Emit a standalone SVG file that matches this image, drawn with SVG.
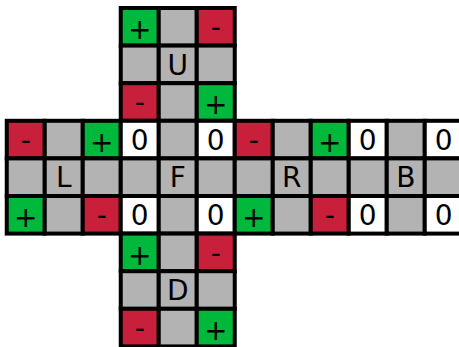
<svg xmlns="http://www.w3.org/2000/svg" width="459" height="347" viewBox="0 0 459 347">
<style>
rect{stroke:#000;stroke-width:4}
.g{fill:#b3b3b3}.r{fill:#c8203a}.p{fill:#00b93c}.w{fill:#fff}
text{font-family:"DejaVu Sans",sans-serif;font-size:28px;text-anchor:middle;fill:#000}
.pl{transform:translateY(2px)}
</style>
<g id="U">
<rect class="p" x="120.75" y="8" width="38" height="37.6"/><rect class="g" x="158.75" y="8" width="38" height="37.6"/><rect class="r" x="196.75" y="8" width="38" height="37.6"/>
<rect class="g" x="120.75" y="45.6" width="38" height="37.6"/><rect class="g" x="158.75" y="45.6" width="38" height="37.6"/><rect class="g" x="196.75" y="45.6" width="38" height="37.6"/>
<rect class="r" x="120.75" y="83.2" width="38" height="37.6"/><rect class="g" x="158.75" y="83.2" width="38" height="37.6"/><rect class="p" x="196.75" y="83.2" width="38" height="37.6"/>
<text class="pl" x="139.75" y="37">+</text><text x="215.75" y="37">-</text>
<text x="177.75" y="74.6">U</text>
<text x="139.75" y="112.2">-</text><text class="pl" x="215.75" y="112.2">+</text>
</g>
<g id="L">
<rect class="r" x="6.75" y="120.8" width="38" height="37.6"/><rect class="g" x="44.75" y="120.8" width="38" height="37.6"/><rect class="p" x="82.75" y="120.8" width="38" height="37.6"/>
<rect class="g" x="6.75" y="158.4" width="38" height="37.6"/><rect class="g" x="44.75" y="158.4" width="38" height="37.6"/><rect class="g" x="82.75" y="158.4" width="38" height="37.6"/>
<rect class="p" x="6.75" y="196" width="38" height="37.6"/><rect class="g" x="44.75" y="196" width="38" height="37.6"/><rect class="r" x="82.75" y="196" width="38" height="37.6"/>
<text x="25.75" y="149.8">-</text><text class="pl" x="101.75" y="149.8">+</text>
<text x="63.75" y="187.4">L</text>
<text class="pl" x="25.75" y="225">+</text><text x="101.75" y="225">-</text>
</g>
<g id="F">
<rect class="w" x="120.75" y="120.8" width="38" height="37.6"/><rect class="g" x="158.75" y="120.8" width="38" height="37.6"/><rect class="w" x="196.75" y="120.8" width="38" height="37.6"/>
<rect class="g" x="120.75" y="158.4" width="38" height="37.6"/><rect class="g" x="158.75" y="158.4" width="38" height="37.6"/><rect class="g" x="196.75" y="158.4" width="38" height="37.6"/>
<rect class="w" x="120.75" y="196" width="38" height="37.6"/><rect class="g" x="158.75" y="196" width="38" height="37.6"/><rect class="w" x="196.75" y="196" width="38" height="37.6"/>
<text x="139.75" y="149.8">0</text><text x="215.75" y="149.8">0</text>
<text x="177.75" y="187.4">F</text>
<text x="139.75" y="225">0</text><text x="215.75" y="225">0</text>
</g>
<g id="R">
<rect class="r" x="234.75" y="120.8" width="38" height="37.6"/><rect class="g" x="272.75" y="120.8" width="38" height="37.6"/><rect class="p" x="310.75" y="120.8" width="38" height="37.6"/>
<rect class="g" x="234.75" y="158.4" width="38" height="37.6"/><rect class="g" x="272.75" y="158.4" width="38" height="37.6"/><rect class="g" x="310.75" y="158.4" width="38" height="37.6"/>
<rect class="p" x="234.75" y="196" width="38" height="37.6"/><rect class="g" x="272.75" y="196" width="38" height="37.6"/><rect class="r" x="310.75" y="196" width="38" height="37.6"/>
<text x="253.75" y="149.8">-</text><text class="pl" x="329.75" y="149.8">+</text>
<text x="291.75" y="187.4">R</text>
<text class="pl" x="253.75" y="225">+</text><text x="329.75" y="225">-</text>
</g>
<g id="B">
<rect class="w" x="348.75" y="120.8" width="38" height="37.6"/><rect class="g" x="386.75" y="120.8" width="38" height="37.6"/><rect class="w" x="424.75" y="120.8" width="38" height="37.6"/>
<rect class="g" x="348.75" y="158.4" width="38" height="37.6"/><rect class="g" x="386.75" y="158.4" width="38" height="37.6"/><rect class="g" x="424.75" y="158.4" width="38" height="37.6"/>
<rect class="w" x="348.75" y="196" width="38" height="37.6"/><rect class="g" x="386.75" y="196" width="38" height="37.6"/><rect class="w" x="424.75" y="196" width="38" height="37.6"/>
<text x="367.75" y="149.8">0</text><text x="443.75" y="149.8">0</text>
<text x="405.75" y="187.4">B</text>
<text x="367.75" y="225">0</text><text x="443.75" y="225">0</text>
</g>
<g id="D">
<rect class="p" x="120.75" y="233.6" width="38" height="37.6"/><rect class="g" x="158.75" y="233.6" width="38" height="37.6"/><rect class="r" x="196.75" y="233.6" width="38" height="37.6"/>
<rect class="g" x="120.75" y="271.2" width="38" height="37.6"/><rect class="g" x="158.75" y="271.2" width="38" height="37.6"/><rect class="g" x="196.75" y="271.2" width="38" height="37.6"/>
<rect class="r" x="120.75" y="308.8" width="38" height="37.6"/><rect class="g" x="158.75" y="308.8" width="38" height="37.6"/><rect class="p" x="196.75" y="308.8" width="38" height="37.6"/>
<text class="pl" x="139.75" y="262.6">+</text><text x="215.75" y="262.6">-</text>
<text x="177.75" y="300.2">D</text>
<text x="139.75" y="337.8">-</text><text class="pl" x="215.75" y="337.8">+</text>
</g>
<g id="connectors"/>
</svg>
